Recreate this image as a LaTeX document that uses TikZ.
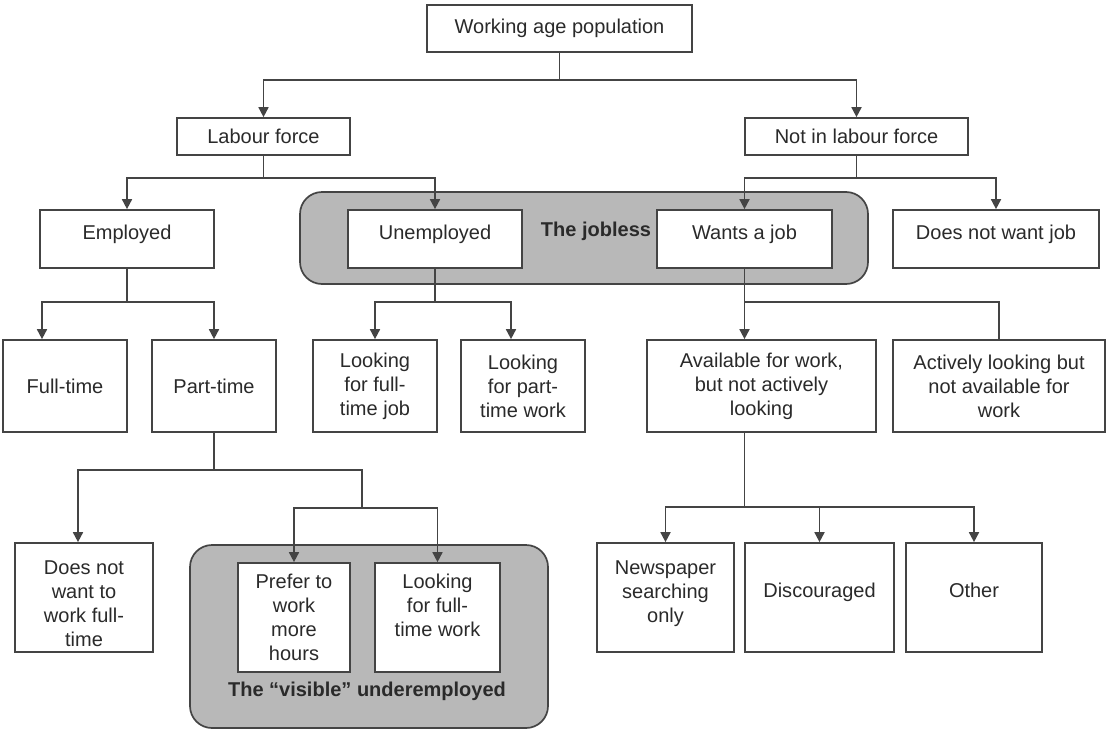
\documentclass[tikz,border=0pt]{standalone}
\usepackage{fontspec}
\setmainfont{Liberation Sans}
\usetikzlibrary{arrows.meta}
\definecolor{linegray}{HTML}{444444}
\definecolor{textgray}{HTML}{2A2A2A}
\definecolor{groupgray}{HTML}{B8B8B8}
\tikzset{
  treebox/.style = {draw=linegray, line width=1.7pt, fill=white, align=center,
    inner sep=0pt, text=textgray, font=\fontsize{20}{24}\selectfont},% plain box
  box/.style 2 args = {treebox, minimum width=#1, minimum height=#2},% box of given size
  lift/.style = {text depth=#1},% moves the text up in its box
  group/.style 2 args = {draw=linegray, line width=1.7pt, fill=groupgray,
    rounded corners=22pt, minimum width=#1, minimum height=#2},% grey frame
  grouplabel/.style = {text=textgray, font=\fontsize{20}{24}\selectfont\bfseries},% bold caption
  link/.style = {draw=linegray, line width=1.7pt}% connector
}

\begin{document}
\begin{tikzpicture}[x=1pt,y=-1pt,>={Triangle[width=10pt,length=10pt]}]
\useasboundingbox (0,0) rectangle (1107,731);
% grey groups
\node[group={568pt}{92pt}] (jobless) at (584,238) {};
\node[group={358pt}{183pt}] (underemp) at (369,636.5) {};
\node[grouplabel] (joblesslbl) at (596,231) {The jobless};
\node[grouplabel] (underemplbl) at (367,691) {The “visible” underemployed};
% boxes
\node[box={265pt}{47pt}] (wap) at (559.5,28.5) {Working age population};
\node[box={173pt}{37pt}] (lf) at (263.5,136.5) {Labour force};
\node[box={223pt}{37pt}] (nlf) at (856.5,136.5) {Not in labour force};
\node[box={174pt}{58pt},lift=14pt] (emp) at (127,239) {Employed};
\node[box={174pt}{58pt},lift=14pt] (unemp) at (435,239) {Unemployed};
\node[box={175pt}{58pt},lift=14pt] (wj) at (744.5,239) {Wants a job};
\node[box={206pt}{58pt},lift=14pt] (dnw) at (996,239) {Does not want job};
\node[box={124pt}{92pt}] (ft) at (65,386) {Full-time};
\node[box={124pt}{92pt}] (pt) at (214,386) {Part-time};
\node[box={124pt}{92pt}] (lfj) at (375,386) {Looking\\for full-\\time job};
\node[box={124pt}{92pt}] (lpw) at (523,386) {Looking\\for part-\\time work};
\node[box={229pt}{92pt}] (av) at (761.5,386) {Available for work,\\but not actively\\looking};
\node[box={212pt}{92pt}] (act) at (999,386) {Actively looking but\\not available for\\work};
\node[box={138pt}{109pt},text height=98pt] (dnf) at (84,597.5) {Does not\\want to\\work full-\\time};
\node[box={112pt}{109pt}] (pref) at (294,617.5) {Prefer to\\work\\more\\hours};
\node[box={125pt}{109pt}] (lfw) at (437.5,617.5) {Looking\\for full-\\time work\\\mbox{}};
\node[box={137pt}{109pt},lift=12pt] (news) at (665.5,597.5) {Newspaper\\searching\\only};
\node[box={149pt}{109pt},lift=14pt] (disc) at (819.5,597.5) {Discouraged};
\node[box={136pt}{109pt},lift=14pt] (oth) at (974,597.5) {Other};
% branch points
\coordinate (j0) at (559.5,80);
\coordinate (j1) at (263.5,178);
\coordinate (j2) at (856.5,178);
\coordinate (j3) at (127,302);
\coordinate (j4) at (435,302);
\coordinate (j5) at (744.5,302);
\coordinate (j6) at (214,470);
\coordinate (j7) at (362,508);
\coordinate (j8) at (744.5,507);
% connectors
\draw[link] (wap) -- (j0);
\draw[link,->] (j0) -| (lf);
\draw[link,->] (j0) -| (nlf);
\draw[link] (lf) -- (j1);
\draw[link,->] (j1) -| (emp);
\draw[link,->] (j1) -| (unemp);
\draw[link] (nlf) -- (j2);
\draw[link,->] (j2) -| (wj);
\draw[link,->] (j2) -| (dnw);
\draw[link] (emp) -- (j3);
\draw[link,->] (j3) -| ([xshift=-23pt]ft.north);
\draw[link,->] (j3) -| (pt);
\draw[link] (unemp) -- (j4);
\draw[link,->] (j4) -| (lfj);
\draw[link,->] (j4) -| ([xshift=-12pt]lpw.north);
\draw[link,->] (wj) -- (wj |- av.north);
\draw[link] (j5) -| (act);
\draw[link] (pt) -- (j6);
\draw[link,->] (j6) -| ([xshift=-6pt]dnf.north);
\draw[link] (j6) -| (j7);
\draw[link,->] (j7) -| (pref);
\draw[link,->] (j7) -| (lfw);
\draw[link] (wj |- av.south) -- (j8);
\draw[link,->] (j8) -| (news);
\draw[link,->] (j8) -| (disc);
\draw[link,->] (j8) -| (oth);
\end{tikzpicture}
\end{document}
